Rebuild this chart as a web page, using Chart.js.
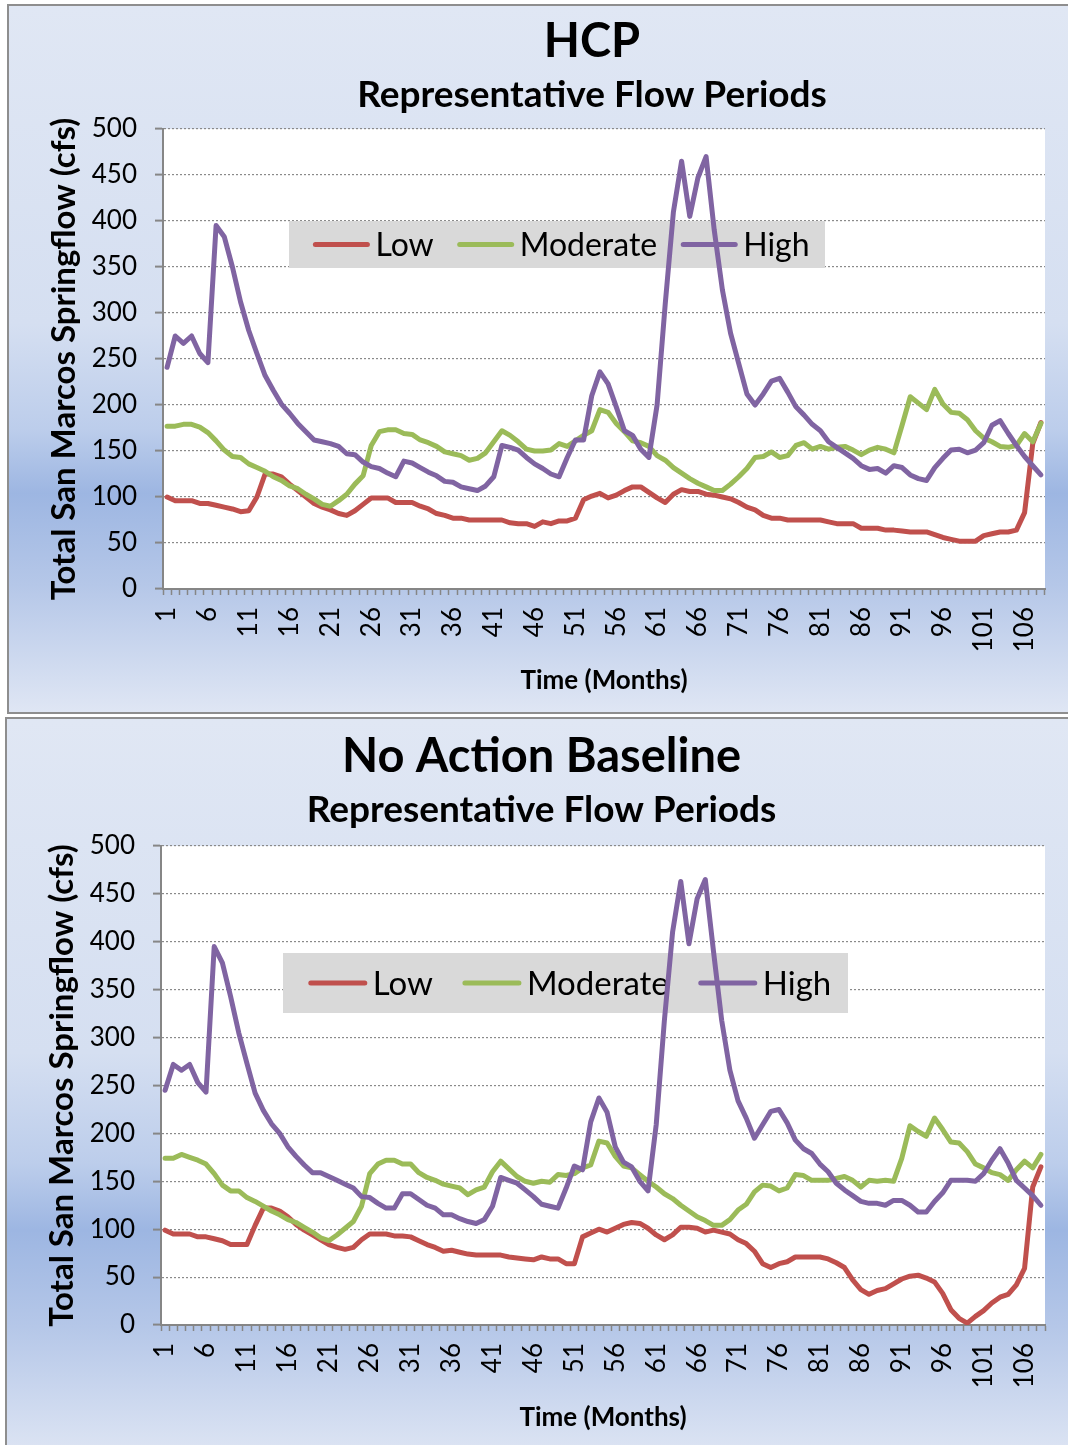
<!DOCTYPE html>
<html>
<head>
<meta charset="utf-8">
<script src="https://cdn.jsdelivr.net/npm/chart.js@4.4.0/dist/chart.umd.min.js"></script>
<style>
  html, body { margin: 0; padding: 0; width: 1068px; height: 1445px; overflow: hidden; background: #fff; }
  .panel {
    position: absolute;
    box-sizing: border-box;
    border: 2px solid #8e8e8e;
    background: linear-gradient(to bottom, #e0e7f4 0%, #d5dff1 45%, #bccdeb 60%, #9db6e2 69%, #b5c7e8 82%, #dfe6f4 100%);
  }
  #p1 { left: 7px; top: 4px; width: 1130px; height: 710px; }
  #p2 { left: 5px; top: 717px; width: 1130px; height: 745px; }
  canvas { position: absolute; left: 0; }
  #hcp { top: 0; }
  #base { top: 716px; }
</style>
</head>
<body>
<div class="panel" id="p1"></div>
<div class="panel" id="p2"></div>
<canvas id="hcp" width="1184" height="716"></canvas>
<canvas id="base" width="1074" height="729"></canvas>
<script>
// months 1..108, every 5th one labelled
const months = Array.from({ length: 108 }, (_, i) => String(i + 1))
const seriesNames = ["Low", "Moderate", "High"]
const seriesColors = ["#c0504d", "#9bbb59", "#8064a2"]
const yMin = 0
const yMax = 500
const yStep = 50

const hcpLow = [
  100, 96, 96, 96, 93, 93, 91, 89, 87, 84, 85, 100, 125, 125, 122, 114, 107, 100, 93, 89,
  86, 82, 80, 85, 92, 99, 99, 99, 94, 94, 94, 90, 87, 82, 80, 77, 77, 75, 75, 75,
  75, 75, 72, 71, 71, 68, 73, 71, 74, 74, 77, 97, 101, 104, 99, 102, 107, 111, 111, 105,
  99, 94, 103, 108, 106, 106, 103, 102, 100, 98, 94, 89, 86, 80, 77, 77, 75, 75, 75, 75,
  75, 73, 71, 71, 71, 66, 66, 66, 64, 64, 63, 62, 62, 62, 59, 56, 54, 52, 52, 52,
  58, 60, 62, 62, 64, 83, 158, 181,
]
const hcpModerate = [
  177, 177, 179, 179, 176, 170, 161, 151, 144, 143, 136, 132, 128, 122, 118, 112, 109, 103, 98, 92,
  90, 96, 103, 114, 123, 156, 171, 173, 173, 169, 168, 162, 159, 155, 149, 147, 145, 140, 142, 148,
  160, 172, 167, 160, 152, 150, 150, 151, 158, 155, 161, 167, 172, 195, 192, 180, 171, 161, 159, 155,
  145, 140, 132, 126, 120, 115, 111, 107, 107, 114, 122, 131, 143, 144, 149, 143, 145, 156, 159, 152,
  155, 152, 154, 155, 151, 146, 151, 154, 152, 148, 178, 209, 202, 195, 217, 201, 192, 191, 184, 172,
  164, 160, 155, 154, 156, 169, 160, 180,
]
const hcpHigh = [
  241, 275, 267, 275, 256, 246, 395, 383, 350, 312, 281, 256, 232, 216, 201, 191, 180, 171, 162, 160,
  158, 155, 147, 146, 138, 133, 131, 126, 122, 139, 137, 132, 127, 123, 117, 116, 111, 109, 107, 112,
  122, 156, 154, 151, 143, 136, 131, 125, 122, 143, 162, 162, 210, 236, 223, 198, 172, 167, 152, 143,
  200, 310, 410, 465, 405, 447, 470, 390, 325, 278, 245, 212, 200, 212, 226, 229, 214, 198, 189, 179,
  172, 160, 154, 148, 142, 134, 130, 131, 126, 134, 132, 124, 120, 118, 132, 142, 151, 152, 148, 151,
  159, 178, 183, 169, 156, 144, 134, 124,
]

const baseLow = [
  99, 95, 95, 95, 92, 92, 90, 88, 84, 84, 84, 104, 122, 122, 119, 113, 105, 99, 94, 89,
  84, 81, 79, 81, 89, 95, 95, 95, 93, 93, 92, 88, 84, 81, 77, 78, 76, 74, 73, 73,
  73, 73, 71, 70, 69, 68, 71, 69, 69, 64, 64, 92, 96, 100, 97, 101, 105, 107, 106, 101,
  94, 89, 94, 102, 102, 101, 97, 99, 97, 95, 89, 85, 77, 64, 60, 64, 66, 71, 71, 71,
  71, 69, 65, 60, 47, 37, 32, 36, 38, 43, 48, 51, 52, 49, 45, 33, 16, 7, 2, 9,
  15, 23, 29, 32, 42, 59, 144, 165,
]
const baseModerate = [
  174, 174, 178, 175, 172, 168, 158, 146, 140, 140, 133, 129, 124, 119, 115, 110, 107, 102, 97, 91,
  88, 94, 101, 108, 124, 158, 168, 172, 172, 168, 168, 159, 154, 151, 147, 145, 143, 136, 141, 144,
  160, 171, 163, 155, 150, 148, 150, 149, 157, 156, 158, 164, 167, 192, 190, 176, 166, 164, 157, 150,
  144, 137, 132, 125, 119, 113, 109, 104, 104, 110, 120, 126, 139, 146, 145, 140, 143, 157, 156, 151,
  151, 151, 153, 155, 151, 144, 151, 150, 151, 150, 174, 208, 202, 197, 216, 204, 191, 190, 181, 168,
  164, 159, 157, 151, 162, 171, 164, 178,
]
const baseHigh = [
  245, 272, 266, 272, 253, 243, 395, 378, 343, 305, 273, 242, 224, 210, 200, 186, 176, 167, 159, 159,
  155, 151, 147, 143, 134, 133, 127, 122, 122, 137, 137, 131, 125, 122, 115, 115, 111, 108, 106, 110,
  124, 154, 151, 148, 141, 134, 126, 124, 122, 143, 166, 162, 212, 237, 222, 186, 170, 165, 150, 140,
  209, 318, 410, 463, 398, 445, 465, 390, 318, 266, 234, 216, 195, 209, 223, 225, 211, 193, 184, 179,
  168, 160, 148, 141, 135, 129, 127, 127, 125, 130, 130, 125, 118, 118, 129, 138, 151, 151, 151, 150,
  158, 172, 184, 169, 151, 143, 135, 125,
]

Chart.defaults.font.family = "Lato, 'Liberation Sans', sans-serif"
Chart.defaults.color = "#000"

// white plot area on top of the panel gradient
const plotBackground = {
  id: "plotBackground",
  beforeDraw(chart) {
    const { ctx, chartArea: a } = chart
    ctx.save()
    ctx.fillStyle = "#ffffff"
    ctx.fillRect(a.left, a.top, a.right - a.left, a.bottom - a.top)
    ctx.restore()
  },
}

// grey legend box inside the plot, drawn under the lines
const boxLegend = {
  id: "boxLegend",
  beforeDatasetsDraw(chart, args, opts) {
    const { ctx, chartArea: a } = chart
    const x = a.left + opts.x
    const y = a.top + opts.y
    ctx.save()
    ctx.fillStyle = "#d9d9d9"
    ctx.fillRect(x, y, opts.width, opts.height)
    ctx.font = `${opts.fontSize}px Lato, 'Liberation Sans', sans-serif`
    ctx.textBaseline = "middle"
    const items = chart.data.datasets.map((ds) => ({
      label: ds.label,
      color: ds.borderColor,
      w: ctx.measureText(ds.label).width,
    }))
    const total =
      items.reduce((s, it) => s + opts.swatch + opts.textGap + it.w, 0) +
      opts.itemGap * (items.length - 1)
    let cx = x + (opts.width - total) / 2 + opts.shift
    const cy = y + opts.height / 2
    items.forEach((it) => {
      ctx.strokeStyle = it.color
      ctx.lineWidth = 5
      ctx.lineCap = "round"
      ctx.beginPath()
      ctx.moveTo(cx + 3, cy)
      ctx.lineTo(cx + opts.swatch - 3, cy)
      ctx.stroke()
      cx += opts.swatch + opts.textGap
      ctx.fillStyle = "#000"
      ctx.fillText(it.label, cx, cy + 1)
      cx += it.w + opts.itemGap
    })
    ctx.restore()
  },
}

function series(label, data, color, order) {
  return {
    label,
    data,
    borderColor: color,
    backgroundColor: color,
    borderWidth: 5,
    pointRadius: 0,
    tension: 0,
    order,
    borderJoinStyle: "round",
    borderCapStyle: "round",
  }
}

function createFlowChart(canvasId, cfg) {
  const ctx = document.getElementById(canvasId)
  if (ctx === null) {
    console.error(`Element with id ${canvasId} does not exist`)
    return
  }
  const scales = {
    x: {
      offset: true,
      grid: {
        display: true,
        drawOnChartArea: false,
        drawTicks: true,
        tickLength: 6,
        tickColor: "#868686",
        tickWidth: 1.5,
        offset: true,
      },
      border: { color: "#868686", width: 2 },
      ticks: {
        autoSkip: false,
        minRotation: 90,
        maxRotation: 90,
        padding: 12,
        font: { size: 26 },
        callback: (v, i) => (i % 5 === 0 ? months[i] : ""),
      },
      title: {
        display: true,
        text: "Time (Months)",
        font: { size: 26, weight: "bold", lineHeight: 1.2 },
        padding: { top: 0, bottom: 0 },
      },
      afterFit: (s) => {
        s.height = cfg.xHeight
        s.paddingLeft = 0
        s.paddingRight = 0
      },
    },
    y: {
      min: yMin,
      max: yMax,
      grid: {
        color: "#8a8a8a",
        lineWidth: 1.2,
        tickLength: 8,
        tickColor: "#868686",
        tickWidth: 2,
      },
      border: { color: "#868686", width: 2, dash: [2, 2] },
      ticks: { stepSize: yStep, padding: 18, font: { size: 26 } },
      title: {
        display: true,
        text: "Total San Marcos Springflow (cfs)",
        font: { size: 33, weight: "bold", lineHeight: 1.2 },
        padding: { top: 5, bottom: 0 },
      },
      afterFit: (s) => { s.width = cfg.yWidth },
    },
  }
  if (cfg.rightGap) {
    // empty box on the right so the titles centre where the original does
    scales.gap = {
      position: "right",
      grid: { display: false, drawTicks: false },
      border: { display: false },
      ticks: { display: false },
      afterFit: (s) => { s.width = cfg.rightGap },
    }
  }

  return new Chart(ctx, {
    type: "line",
    data: {
      labels: months,
      datasets: [
        series(seriesNames[0], cfg.low, seriesColors[0], 3),
        series(seriesNames[1], cfg.moderate, seriesColors[1], 2),
        series(seriesNames[2], cfg.high, seriesColors[2], 1),
      ],
    },
    options: {
      responsive: false,
      animation: false,
      events: [],
      layout: { padding: cfg.padding },
      plugins: {
        legend: { display: false },
        tooltip: { enabled: false },
        title: {
          display: true,
          text: cfg.title,
          font: { size: 47, weight: "bold", lineHeight: 1.2 },
          padding: { top: 0, bottom: 0 },
        },
        subtitle: {
          display: true,
          text: "Representative Flow Periods",
          color: "#000",
          font: { size: 37, weight: "bold", lineHeight: 1.2 },
          padding: cfg.subPadding,
        },
        boxLegend: cfg.legend,
      },
      scales,
    },
    plugins: [plotBackground, boxLegend],
  })
}

createFlowChart("hcp", {
  title: "HCP",
  low: hcpLow,
  moderate: hcpModerate,
  high: hcpHigh,
  padding: { left: 40, right: 40, top: 14, bottom: 20 },
  subPadding: { top: 2.4, bottom: 11.8 },
  yWidth: 123,
  xHeight: 107,
  rightGap: 99,
  legend: { x: 126, y: 92, width: 536, height: 47, fontSize: 32, swatch: 58, textGap: 5, itemGap: 23, shift: 4 },
})

createFlowChart("base", {
  title: "No Action Baseline",
  low: baseLow,
  moderate: baseModerate,
  high: baseHigh,
  padding: { left: 38, right: 29, top: 13, bottom: 12 },
  subPadding: { top: 2.4, bottom: 13.8 },
  yWidth: 123,
  xHeight: 108,
  legend: { x: 122, y: 107, width: 565, height: 60, fontSize: 33, swatch: 60, textGap: 5, itemGap: 29, shift: 4 },
})
</script>
</body>
</html>
